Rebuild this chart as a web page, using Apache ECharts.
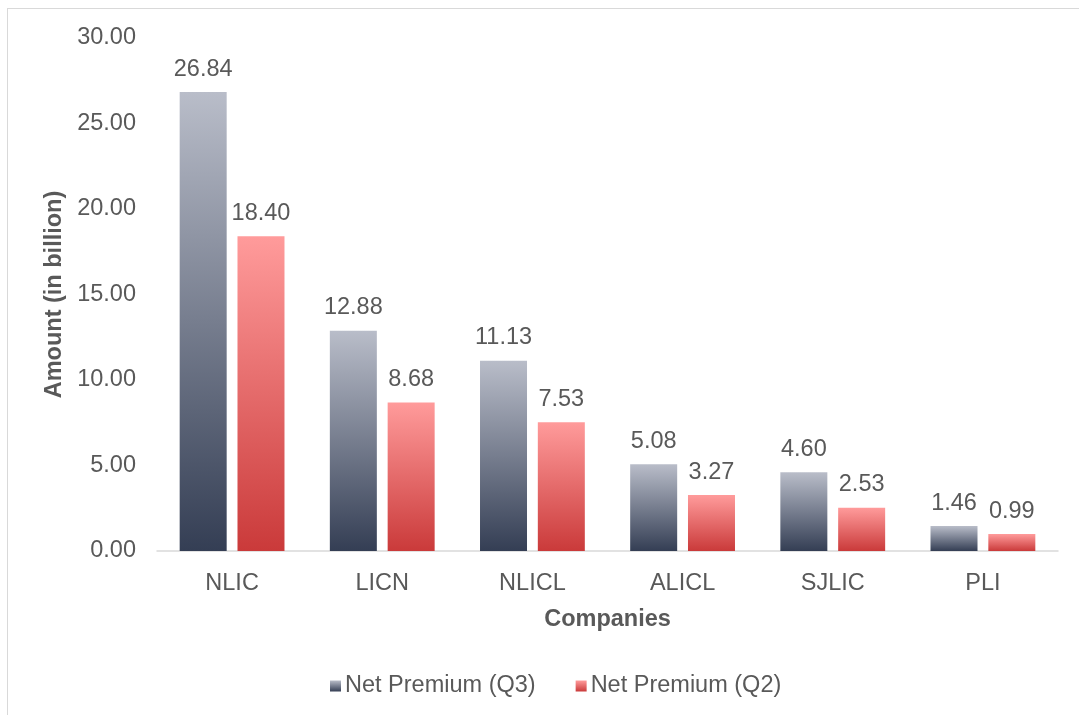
<!DOCTYPE html>
<html><head><meta charset="utf-8">
<script src="https://cdn.jsdelivr.net/npm/echarts@6/dist/echarts.min.js"></script>
<style>
html,body{margin:0;padding:0;background:#fff;}
#frame{position:absolute;left:7px;top:8px;width:1080px;height:720px;border:1px solid #d9d9d9;box-sizing:border-box;}
#c{position:absolute;left:0;top:0;width:1079px;height:715px;}
</style></head>
<body><div id="frame"></div><div id="c"></div>
<script>
const categories = ['NLIC','LICN','NLICL','ALICL','SJLIC','PLI'];
const q3Values = [26.84, 12.88, 11.13, 5.08, 4.60, 1.46];
const q2Values = [18.40, 8.68, 7.53, 3.27, 2.53, 0.99];
const seriesNames = ['Net Premium (Q3)','Net Premium (Q2)'];

const font = 'Liberation Sans, Arial, sans-serif';
const fs = 23.5;
const grad = (top, bottom) => new echarts.graphic.LinearGradient(0,0,0,1,[{offset:0,color:top},{offset:1,color:bottom}]);
const chart = echarts.init(document.getElementById('c'), null, {renderer:'canvas'});
const labelCfg = {show:true, position:'top', distance:11, color:'#595959', fontSize:fs, fontFamily:font, formatter: p => p.value.toFixed(2)};
chart.setOption({
  animation:false,
  grid:{left:157, right:21, top:38, bottom:164, containLabel:false},
  legend:{bottom:12, left:325, itemWidth:11, itemHeight:11, itemGap:40,
    textStyle:{color:'#595959', fontSize:fs, fontFamily:font, padding:[0,0,0,-1]}, icon:'rect'},
  xAxis:{type:'category', data:categories, name:'Companies', nameLocation:'middle', nameGap:57,
    nameTextStyle:{color:'#595959', fontSize:fs, fontWeight:'bold', fontFamily:font},
    axisLine:{lineStyle:{color:'#d9d9d9', width:1.5}}, axisTick:{show:false},
    axisLabel:{color:'#595959', fontSize:fs, fontFamily:font, margin:21}},
  yAxis:{type:'value', min:0, max:30, interval:5, name:'Amount (in billion)', nameLocation:'middle', nameGap:86,
    nameTextStyle:{color:'#595959', fontSize:fs, fontWeight:'bold', fontFamily:font},
    splitLine:{show:false}, axisLine:{show:false}, axisTick:{show:false},
    axisLabel:{color:'#595959', fontSize:fs, fontFamily:font, margin:21, formatter: v => v.toFixed(2)}},
  series:[
    {name:seriesNames[0], type:'bar', data:q3Values, barWidth:47, barGap:'23%',
      itemStyle:{color:grad('#b9bdc9','#343e54')}, label:labelCfg},
    {name:seriesNames[1], type:'bar', data:q2Values, barWidth:47,
      itemStyle:{color:grad('#ff9b9b','#ca3a3a')}, label:labelCfg}
  ]
});
</script></body></html>
